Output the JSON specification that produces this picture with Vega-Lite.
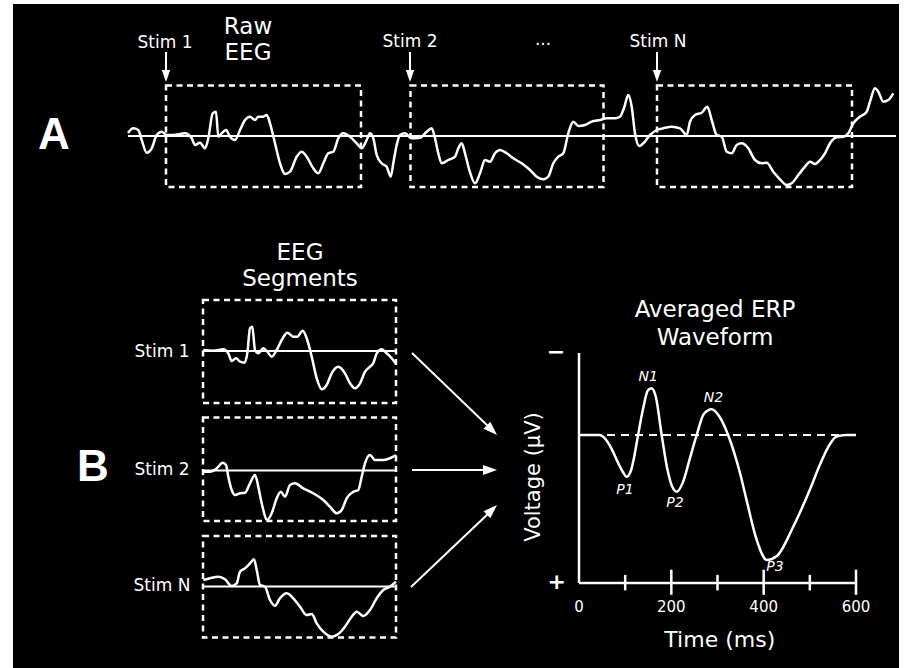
{
  "$schema": "https://vega.github.io/schema/vega-lite/v6.json",
  "width": 886,
  "height": 664,
  "autosize": "none",
  "padding": {"left": 13, "top": 4, "right": 6, "bottom": 0},
  "background": "white",
  "config": {
    "view": {"fill": "black", "stroke": null},
    "text": {"font": "DejaVu Sans", "fill": "white", "align": "center", "baseline": "middle"}
  },
  "datasets": {
    "eeg": [
      {"trace":"A","x":128,"y":133},{"trace":"A","x":133.3,"y":128.3},{"trace":"A","x":138.3,"y":130},{"trace":"A","x":141.7,"y":140},{"trace":"A","x":146.7,"y":152.7},{"trace":"A","x":151.7,"y":148.3},{"trace":"A","x":156.7,"y":135},{"trace":"A","x":161.7,"y":131.7},{"trace":"A","x":166.7,"y":135},{"trace":"A","x":173.3,"y":135},{"trace":"A","x":185,"y":133.3},{"trace":"A","x":191.7,"y":138.3},{"trace":"A","x":195,"y":145},{"trace":"A","x":200,"y":142.7},{"trace":"A","x":205,"y":148.3},{"trace":"A","x":208.3,"y":138.3},{"trace":"A","x":212.7,"y":113.3},{"trace":"A","x":216,"y":111.7},{"trace":"A","x":218.3,"y":136.7},{"trace":"A","x":221.7,"y":133.3},{"trace":"A","x":226,"y":130},{"trace":"A","x":230,"y":136.7},{"trace":"A","x":235,"y":140},{"trace":"A","x":240,"y":130},{"trace":"A","x":245,"y":120},{"trace":"A","x":250,"y":116.7},{"trace":"A","x":255,"y":120},{"trace":"A","x":258.3,"y":116.7},{"trace":"A","x":263.3,"y":116.7},{"trace":"A","x":266.7,"y":115},{"trace":"A","x":270,"y":123.3},{"trace":"A","x":275,"y":143.3},{"trace":"A","x":280,"y":163.3},{"trace":"A","x":285,"y":174},{"trace":"A","x":290,"y":171.7},{"trace":"A","x":296.7,"y":156.7},{"trace":"A","x":301.7,"y":151.7},{"trace":"A","x":306.7,"y":156.7},{"trace":"A","x":313.3,"y":168.3},{"trace":"A","x":318.3,"y":173.3},{"trace":"A","x":323.3,"y":163.3},{"trace":"A","x":328.3,"y":153.3},{"trace":"A","x":333.3,"y":151.7},{"trace":"A","x":338.3,"y":138.3},{"trace":"A","x":343.3,"y":133.3},{"trace":"A","x":350,"y":136.7},{"trace":"A","x":356.7,"y":143.3},{"trace":"A","x":361.7,"y":148.3},{"trace":"A","x":366.7,"y":140},{"trace":"A","x":370,"y":133.3},{"trace":"A","x":373.3,"y":138.3},{"trace":"A","x":376.7,"y":155},{"trace":"A","x":381.7,"y":163.3},{"trace":"A","x":386.7,"y":166.7},{"trace":"A","x":390.7,"y":176.7},{"trace":"A","x":393.3,"y":163.3},{"trace":"A","x":396.7,"y":145},{"trace":"A","x":400,"y":135},{"trace":"A","x":405,"y":133.3},{"trace":"A","x":411.7,"y":138.3},{"trace":"A","x":420,"y":137.7},{"trace":"A","x":426.7,"y":131.7},{"trace":"A","x":431.7,"y":128.3},{"trace":"A","x":435,"y":138.3},{"trace":"A","x":438.3,"y":153.3},{"trace":"A","x":441.7,"y":163.3},{"trace":"A","x":448.3,"y":160},{"trace":"A","x":455,"y":156.7},{"trace":"A","x":458.3,"y":148.3},{"trace":"A","x":461.7,"y":143.3},{"trace":"A","x":465,"y":153.3},{"trace":"A","x":469.3,"y":170},{"trace":"A","x":475,"y":183.3},{"trace":"A","x":480,"y":173.3},{"trace":"A","x":485,"y":160},{"trace":"A","x":490,"y":161.7},{"trace":"A","x":495,"y":153.3},{"trace":"A","x":500,"y":150},{"trace":"A","x":506.7,"y":153.3},{"trace":"A","x":513.3,"y":158.3},{"trace":"A","x":521.7,"y":163.3},{"trace":"A","x":530,"y":170},{"trace":"A","x":536.7,"y":176.7},{"trace":"A","x":543.3,"y":179.3},{"trace":"A","x":548.3,"y":176.7},{"trace":"A","x":553.3,"y":163.3},{"trace":"A","x":558.3,"y":156.7},{"trace":"A","x":563.3,"y":153.3},{"trace":"A","x":568.3,"y":133.3},{"trace":"A","x":573.3,"y":121.7},{"trace":"A","x":578.3,"y":126},{"trace":"A","x":585,"y":125},{"trace":"A","x":591.7,"y":121.7},{"trace":"A","x":600,"y":120},{"trace":"A","x":606.7,"y":118.3},{"trace":"A","x":615,"y":118.3},{"trace":"A","x":620,"y":116.7},{"trace":"A","x":624,"y":108},{"trace":"A","x":628.3,"y":95},{"trace":"A","x":631.7,"y":106.7},{"trace":"A","x":635,"y":133.3},{"trace":"A","x":639.3,"y":146},{"trace":"A","x":643.3,"y":143.3},{"trace":"A","x":650,"y":135},{"trace":"A","x":656.7,"y":130},{"trace":"A","x":663.3,"y":128.3},{"trace":"A","x":671.7,"y":126.7},{"trace":"A","x":680,"y":128.3},{"trace":"A","x":686.7,"y":135},{"trace":"A","x":690,"y":121.7},{"trace":"A","x":695,"y":115},{"trace":"A","x":701.7,"y":112.7},{"trace":"A","x":707.3,"y":106.7},{"trace":"A","x":711.7,"y":120},{"trace":"A","x":716.7,"y":135},{"trace":"A","x":721.7,"y":136.7},{"trace":"A","x":726.7,"y":151.7},{"trace":"A","x":731.7,"y":153.3},{"trace":"A","x":736.7,"y":145},{"trace":"A","x":741.7,"y":143.3},{"trace":"A","x":748.3,"y":148.3},{"trace":"A","x":755,"y":160},{"trace":"A","x":761.7,"y":163.3},{"trace":"A","x":766.7,"y":162.7},{"trace":"A","x":773.3,"y":171.7},{"trace":"A","x":780,"y":179.3},{"trace":"A","x":786.7,"y":185},{"trace":"A","x":791.7,"y":183.3},{"trace":"A","x":798.3,"y":175},{"trace":"A","x":805,"y":166.7},{"trace":"A","x":810,"y":161.7},{"trace":"A","x":815,"y":164},{"trace":"A","x":820,"y":160},{"trace":"A","x":825,"y":153.3},{"trace":"A","x":830,"y":143.3},{"trace":"A","x":836.7,"y":137.3},{"trace":"A","x":843.3,"y":136.7},{"trace":"A","x":848.3,"y":133.3},{"trace":"A","x":853.3,"y":123.3},{"trace":"A","x":860,"y":116.7},{"trace":"A","x":866.7,"y":111.7},{"trace":"A","x":870,"y":101.7},{"trace":"A","x":875,"y":88.3},{"trace":"A","x":878.3,"y":91.7},{"trace":"A","x":883.3,"y":101.7},{"trace":"A","x":888.3,"y":100},{"trace":"A","x":893.3,"y":93.3},
      {"trace":"S1","x":203.3,"y":350},{"trace":"S1","x":213.3,"y":350.7},{"trace":"S1","x":223.3,"y":349.3},{"trace":"S1","x":228.3,"y":353.3},{"trace":"S1","x":231.7,"y":361},{"trace":"S1","x":236,"y":358.3},{"trace":"S1","x":240,"y":361.7},{"trace":"S1","x":244.3,"y":362.7},{"trace":"S1","x":247.3,"y":353.3},{"trace":"S1","x":250,"y":328.3},{"trace":"S1","x":252.3,"y":326.7},{"trace":"S1","x":255,"y":350},{"trace":"S1","x":258.3,"y":353.3},{"trace":"S1","x":263.3,"y":348.3},{"trace":"S1","x":267.3,"y":351.7},{"trace":"S1","x":271.7,"y":356.7},{"trace":"S1","x":276.7,"y":350},{"trace":"S1","x":281.7,"y":340},{"trace":"S1","x":287.3,"y":332.7},{"trace":"S1","x":293.3,"y":336.7},{"trace":"S1","x":297.3,"y":336.7},{"trace":"S1","x":302.7,"y":330.7},{"trace":"S1","x":306.7,"y":338.3},{"trace":"S1","x":311.7,"y":356.7},{"trace":"S1","x":316.7,"y":378.3},{"trace":"S1","x":321.7,"y":389.3},{"trace":"S1","x":326.7,"y":385},{"trace":"S1","x":331.7,"y":373.3},{"trace":"S1","x":338.3,"y":366.7},{"trace":"S1","x":345,"y":373.3},{"trace":"S1","x":350,"y":383.3},{"trace":"S1","x":355,"y":388.3},{"trace":"S1","x":360,"y":383.3},{"trace":"S1","x":365,"y":371.7},{"trace":"S1","x":370,"y":366.7},{"trace":"S1","x":373.3,"y":363.3},{"trace":"S1","x":376.7,"y":353.3},{"trace":"S1","x":381.7,"y":349.3},{"trace":"S1","x":386.7,"y":353.3},{"trace":"S1","x":391.7,"y":358.3},{"trace":"S1","x":396,"y":364},
      {"trace":"S2","x":203.3,"y":471.7},{"trace":"S2","x":210,"y":471.7},{"trace":"S2","x":216.7,"y":468.3},{"trace":"S2","x":222.7,"y":462.7},{"trace":"S2","x":226,"y":465},{"trace":"S2","x":228.3,"y":476.7},{"trace":"S2","x":231.7,"y":490},{"trace":"S2","x":235,"y":495},{"trace":"S2","x":240,"y":493.3},{"trace":"S2","x":245,"y":492.7},{"trace":"S2","x":250,"y":483.3},{"trace":"S2","x":255,"y":475},{"trace":"S2","x":258.3,"y":486.7},{"trace":"S2","x":261.7,"y":503.3},{"trace":"S2","x":267.3,"y":520},{"trace":"S2","x":271.7,"y":513.3},{"trace":"S2","x":276.7,"y":498.3},{"trace":"S2","x":280.7,"y":491.7},{"trace":"S2","x":285,"y":496.7},{"trace":"S2","x":290,"y":485},{"trace":"S2","x":295,"y":483.3},{"trace":"S2","x":303.3,"y":488.3},{"trace":"S2","x":313.3,"y":493.3},{"trace":"S2","x":323.3,"y":500},{"trace":"S2","x":330,"y":506.7},{"trace":"S2","x":336.7,"y":513.3},{"trace":"S2","x":341.7,"y":510},{"trace":"S2","x":346.7,"y":498.3},{"trace":"S2","x":353.3,"y":491.7},{"trace":"S2","x":358.3,"y":490},{"trace":"S2","x":361.7,"y":476.7},{"trace":"S2","x":365,"y":463.3},{"trace":"S2","x":370,"y":455},{"trace":"S2","x":375,"y":460},{"trace":"S2","x":383.3,"y":460},{"trace":"S2","x":393.3,"y":456.7},{"trace":"S2","x":396,"y":455},
      {"trace":"SN","x":203.3,"y":580},{"trace":"SN","x":210,"y":578.3},{"trace":"SN","x":218.3,"y":576.7},{"trace":"SN","x":225,"y":579.3},{"trace":"SN","x":231.7,"y":586},{"trace":"SN","x":236.7,"y":583.3},{"trace":"SN","x":240,"y":571.7},{"trace":"SN","x":245,"y":568.3},{"trace":"SN","x":250,"y":563.3},{"trace":"SN","x":254,"y":559.3},{"trace":"SN","x":256.7,"y":570},{"trace":"SN","x":260,"y":585},{"trace":"SN","x":265,"y":586.7},{"trace":"SN","x":270,"y":600},{"trace":"SN","x":275,"y":605.7},{"trace":"SN","x":280,"y":598.3},{"trace":"SN","x":286.7,"y":593.3},{"trace":"SN","x":293.3,"y":598.3},{"trace":"SN","x":300,"y":606.7},{"trace":"SN","x":306.7,"y":615},{"trace":"SN","x":311.7,"y":614},{"trace":"SN","x":316.7,"y":623.3},{"trace":"SN","x":323.3,"y":631.7},{"trace":"SN","x":331.7,"y":636.7},{"trace":"SN","x":338.3,"y":634},{"trace":"SN","x":345,"y":626.7},{"trace":"SN","x":351.7,"y":616.7},{"trace":"SN","x":356.7,"y":611.7},{"trace":"SN","x":363.3,"y":616},{"trace":"SN","x":370,"y":610},{"trace":"SN","x":376.7,"y":598.3},{"trace":"SN","x":383.3,"y":590},{"trace":"SN","x":390,"y":586.7},{"trace":"SN","x":396,"y":581.7}
    ],
    "boxes": [
      {"x":166,"x2":361,"y":85.5,"y2":187},
      {"x":410.5,"x2":603.5,"y":85.5,"y2":187},
      {"x":657,"x2":852,"y":85.5,"y2":187},
      {"x":203,"x2":396,"y":300,"y2":403},
      {"x":203,"x2":396,"y":417.5,"y2":521},
      {"x":203,"x2":396,"y":536,"y2":637.5}
    ],
    "baselines": [
      {"x":128,"x2":896,"y":136},
      {"x":203,"x2":396,"y":351},
      {"x":203,"x2":396,"y":470.5},
      {"x":203,"x2":396,"y":586.5}
    ],
    "shafts": [
      {"x":166,"y":52,"x2":166,"y2":72},
      {"x":410,"y":52,"x2":410,"y2":72},
      {"x":657,"y":52,"x2":657,"y2":72},
      {"x":412,"y":353,"x2":490,"y2":428},
      {"x":412,"y":470,"x2":487,"y2":470},
      {"x":411,"y":587,"x2":490,"y2":512}
    ],
    "erp": [
      {"t":0,"v":0},{"t":45,"v":0},{"t":55,"v":0.2},{"t":70,"v":0.9},{"t":85,"v":1.9},{"t":95,"v":2.5},{"t":103,"v":2.82},{"t":112,"v":2.45},{"t":120,"v":1.4},{"t":128,"v":0},{"t":139,"v":-1.8},{"t":149,"v":-3.0},{"t":157,"v":-3.16},{"t":167,"v":-2.5},{"t":179,"v":0},{"t":192,"v":2.4},{"t":202,"v":3.5},{"t":212,"v":3.83},{"t":225,"v":3.2},{"t":240,"v":1.6},{"t":255,"v":0},{"t":270,"v":-1.4},{"t":287,"v":-1.74},{"t":303,"v":-1.3},{"t":323,"v":0},{"t":349,"v":2.6},{"t":363,"v":4.4},{"t":385,"v":7.1},{"t":407,"v":8.45},{"t":428,"v":8.2},{"t":464,"v":6.2},{"t":500,"v":3.7},{"t":522,"v":2.0},{"t":540,"v":0.8},{"t":558,"v":0.1},{"t":580,"v":0},{"t":600,"v":0}
    ]
  },
  "layer": [
    {
      "layer": [
        {
          "data": {"name": "boxes"},
          "mark": {"type": "rect", "fill": null, "filled": false, "stroke": "white", "strokeWidth": 2.5, "strokeDash": [6, 4.5]},
          "encoding": {
            "x": {"field": "x", "type": "quantitative", "scale": {"domain": [13, 899], "range": [0, 886], "nice": false, "zero": false}, "axis": null},
            "x2": {"field": "x2"},
            "y": {"field": "y", "type": "quantitative", "scale": {"domain": [4, 668], "range": [0, 664], "nice": false, "zero": false}, "axis": null},
            "y2": {"field": "y2"}
          }
        },
        {
          "data": {"name": "baselines"},
          "mark": {"type": "rule", "stroke": "white", "strokeWidth": 2},
          "encoding": {
            "x": {"field": "x", "type": "quantitative"},
            "x2": {"field": "x2"},
            "y": {"field": "y", "type": "quantitative"}
          }
        },
        {
          "data": {"name": "eeg"},
          "mark": {"type": "line", "stroke": "white", "strokeWidth": 2.5, "interpolate": "monotone"},
          "encoding": {
            "x": {"field": "x", "type": "quantitative"},
            "y": {"field": "y", "type": "quantitative"},
            "detail": {"field": "trace"}
          }
        },
        {
          "data": {"name": "shafts"},
          "mark": {"type": "rule", "stroke": "white", "strokeWidth": 2},
          "encoding": {
            "x": {"field": "x", "type": "quantitative"},
            "y": {"field": "y", "type": "quantitative"},
            "x2": {"field": "x2"},
            "y2": {"field": "y2"}
          }
        },
        {
          "data": {"values": [{"x":166,"y":82},{"x":410,"y":82},{"x":657,"y":82}]},
          "mark": {"type": "point", "shape": "M0,0L0.7,2L-0.7,2Z", "filled": true, "fill": "white", "stroke": null, "size": 144, "angle": 180, "opacity": 1},
          "encoding": {"x": {"field": "x", "type": "quantitative"}, "y": {"field": "y", "type": "quantitative"}}
        },
        {
          "data": {"values": [{"x":497,"y":435}]},
          "mark": {"type": "point", "shape": "M0,0L0.7,2L-0.7,2Z", "filled": true, "fill": "white", "stroke": null, "size": 196, "angle": 134, "opacity": 1},
          "encoding": {"x": {"field": "x", "type": "quantitative"}, "y": {"field": "y", "type": "quantitative"}}
        },
        {
          "data": {"values": [{"x":497,"y":470}]},
          "mark": {"type": "point", "shape": "M0,0L0.7,2L-0.7,2Z", "filled": true, "fill": "white", "stroke": null, "size": 196, "angle": 90, "opacity": 1},
          "encoding": {"x": {"field": "x", "type": "quantitative"}, "y": {"field": "y", "type": "quantitative"}}
        },
        {
          "data": {"values": [{"x":497,"y":505}]},
          "mark": {"type": "point", "shape": "M0,0L0.7,2L-0.7,2Z", "filled": true, "fill": "white", "stroke": null, "size": 196, "angle": 46, "opacity": 1},
          "encoding": {"x": {"field": "x", "type": "quantitative"}, "y": {"field": "y", "type": "quantitative"}}
        },
        {
          "data": {"values": [{"label":"A","x":54,"y":136},{"label":"B","x":93,"y":468}]},
          "mark": {"type": "text", "fontSize": 44, "fontWeight": "bold", "font": "Liberation Sans"},
          "encoding": {"x": {"field": "x", "type": "quantitative"}, "y": {"field": "y", "type": "quantitative"}, "text": {"field": "label"}}
        },
        {
          "data": {"values": [
            {"label":"Stim 1","x":165,"y":43},{"label":"Stim 2","x":410,"y":42},{"label":"Stim N","x":658,"y":42},{"label":"...","x":543,"y":40},
            {"label":"Stim 1","x":162,"y":352},{"label":"Stim 2","x":162,"y":470},{"label":"Stim N","x":162,"y":586}
          ]},
          "mark": {"type": "text", "fontSize": 17},
          "encoding": {"x": {"field": "x", "type": "quantitative"}, "y": {"field": "y", "type": "quantitative"}, "text": {"field": "label"}}
        },
        {
          "data": {"values": [
            {"label":"Raw","x":248,"y":27},{"label":"EEG","x":248,"y":53},
            {"label":"EEG","x":300,"y":253},{"label":"Segments","x":300,"y":279},
            {"label":"Averaged ERP","x":715,"y":310},{"label":"Waveform","x":715,"y":338}
          ]},
          "mark": {"type": "text", "fontSize": 23},
          "encoding": {"x": {"field": "x", "type": "quantitative"}, "y": {"field": "y", "type": "quantitative"}, "text": {"field": "label"}}
        }
      ]
    },
    {
      "layer": [
        {
          "data": {"values": [{}]},
          "mark": {"type": "rule", "stroke": "white", "strokeWidth": 2, "strokeDash": [8, 6]},
          "encoding": {
            "x": {"datum": 0, "type": "quantitative", "scale": {"domain": [0, 600], "range": [566, 843], "nice": false, "zero": false}, "axis": null},
            "x2": {"datum": 600},
            "y": {"datum": 0, "type": "quantitative", "scale": {"domain": [-5.54, 10], "range": [349, 579], "nice": false, "zero": false}, "axis": null}
          }
        },
        {
          "data": {"name": "erp"},
          "mark": {"type": "line", "stroke": "white", "strokeWidth": 2.5, "interpolate": "monotone"},
          "encoding": {
            "x": {"field": "t", "type": "quantitative"},
            "y": {"field": "v", "type": "quantitative"}
          }
        },
        {
          "data": {"values": [{}]},
          "mark": {"type": "rule", "stroke": "white", "strokeWidth": 2.5},
          "encoding": {
            "x": {"datum": 0, "type": "quantitative"},
            "x2": {"datum": 600},
            "y": {"datum": 10, "type": "quantitative"}
          }
        },
        {
          "data": {"values": [{}]},
          "mark": {"type": "rule", "stroke": "white", "strokeWidth": 2.5},
          "encoding": {
            "x": {"datum": 0, "type": "quantitative"},
            "y": {"datum": -5.54, "type": "quantitative"},
            "y2": {"datum": 10}
          }
        },
        {
          "data": {"values": [{"t":200},{"t":400},{"t":600}]},
          "mark": {"type": "rule", "stroke": "white", "strokeWidth": 2.5},
          "encoding": {
            "x": {"field": "t", "type": "quantitative"},
            "y": {"datum": 9.1, "type": "quantitative"},
            "y2": {"datum": 10.8}
          }
        },
        {
          "data": {"values": [{"t":100},{"t":300},{"t":500}]},
          "mark": {"type": "rule", "stroke": "white", "strokeWidth": 2.5},
          "encoding": {
            "x": {"field": "t", "type": "quantitative"},
            "y": {"datum": 9.45, "type": "quantitative"},
            "y2": {"datum": 10.5}
          }
        },
        {
          "data": {"values": [{"t":0,"label":"0"},{"t":200,"label":"200"},{"t":400,"label":"400"},{"t":600,"label":"600"}]},
          "mark": {"type": "text", "fontSize": 15},
          "encoding": {
            "x": {"field": "t", "type": "quantitative"},
            "y": {"datum": 11.6, "type": "quantitative"},
            "text": {"field": "label"}
          }
        },
        {
          "data": {"values": [{"t":305,"v":13.85,"label":"Time (ms)"}]},
          "mark": {"type": "text", "fontSize": 22},
          "encoding": {
            "x": {"field": "t", "type": "quantitative"},
            "y": {"field": "v", "type": "quantitative"},
            "text": {"field": "label"}
          }
        },
        {
          "data": {"values": [{"t":-97.5,"v":2.84,"label":"Voltage (µV)"}]},
          "mark": {"type": "text", "fontSize": 21, "angle": 270},
          "encoding": {
            "x": {"field": "t", "type": "quantitative"},
            "y": {"field": "v", "type": "quantitative"},
            "text": {"field": "label"}
          }
        },
        {
          "data": {"values": [{"t":-50,"v":-5.6,"label":"−"},{"t":-48,"v":9.93,"label":"+"}]},
          "mark": {"type": "text", "fontSize": 22, "fontWeight": "bold"},
          "encoding": {
            "x": {"field": "t", "type": "quantitative"},
            "y": {"field": "v", "type": "quantitative"},
            "text": {"field": "label"}
          }
        },
        {
          "data": {"values": [
            {"t":150,"v":-3.94,"label":"N1"},{"t":291,"v":-2.48,"label":"N2"},
            {"t":99.6,"v":3.72,"label":"P1"},{"t":208,"v":4.61,"label":"P2"},{"t":424.5,"v":8.9,"label":"P3"}
          ]},
          "mark": {"type": "text", "fontSize": 14, "fontStyle": "italic"},
          "encoding": {
            "x": {"field": "t", "type": "quantitative"},
            "y": {"field": "v", "type": "quantitative"},
            "text": {"field": "label"}
          }
        }
      ]
    }
  ],
  "resolve": {"scale": {"x": "independent", "y": "independent"}}
}
